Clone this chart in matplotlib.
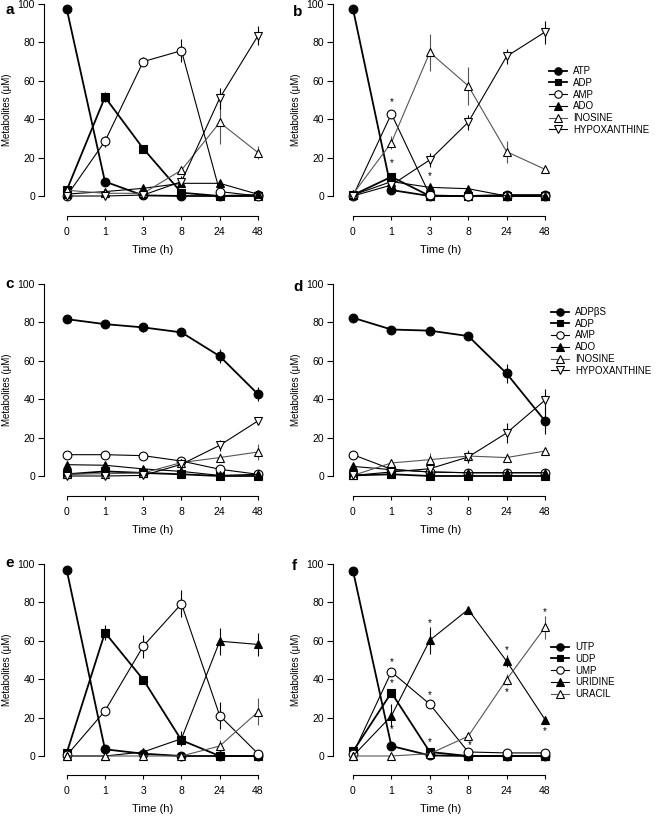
import matplotlib
matplotlib.use("Agg")
import matplotlib.pyplot as plt
import numpy as np

plt.rcParams['font.family'] = ['Liberation Sans', 'DejaVu Sans']

time_labels = ["0", "1", "3", "8", "24", "48"]

# ---- panel a (ATP) ----
a_ATP = [97.5, 7.5, 0.3, 0.0, 0.0, 0.5]
a_ADP = [3.0, 51.5, 24.7, 1.7, 0.0, 0.0]
a_AMP = [0.0, 28.5, 70.0, 75.7, 2.3, 0.0]
a_ADO = [1.0, 2.3, 4.0, 6.6, 6.6, 0.9]
a_INO = [3.0, 1.4, 1.4, 13.5, 38.3, 22.6]
a_HYP = [0.0, 0.0, 0.5, 7.5, 51.0, 83.5]
a_ATP_err = [0, 1, 0, 0, 0, 0]
a_ADP_err = [0, 2.5, 0, 0, 0, 0]
a_AMP_err = [0, 3, 2.5, 6, 4, 0]
a_ADO_err = [0, 0, 0, 0, 0, 0]
a_INO_err = [0, 0, 0, 0, 11, 3.5]
a_HYP_err = [0, 0, 0, 3, 5.5, 5]

# ---- panel b (ATP) ----
b_ATP = [97.4, 3.1, 0.0, 0.0, 0.5, 0.5]
b_ADP = [0.5, 10.0, 0.0, 0.0, 0.0, 0.0]
b_AMP = [0.0, 42.8, 0.5, 0.0, 0.0, 0.0]
b_ADO = [0.5, 7.5, 4.5, 3.8, 0.0, 0.0]
b_INO = [1.0, 27.8, 74.8, 57.4, 23.1, 13.9]
b_HYP = [0.0, 5.7, 18.8, 38.4, 72.7, 85.4]
b_ATP_err = [0, 0, 0, 0, 0, 0]
b_ADP_err = [0, 2, 0, 0, 0, 0]
b_AMP_err = [0, 0, 0, 0, 0, 0]
b_ADO_err = [0, 0, 0, 0, 0, 0]
b_INO_err = [0, 3.5, 9.7, 9.8, 5.7, 0.5]
b_HYP_err = [0, 0, 3.5, 4, 4, 6]
b_star_x = [1, 1, 2]
b_star_y = [49, 17, 10.4]

# ---- panel c (ADPbetaS) ----
c_ADPbS = [81.7, 79.1, 77.4, 74.8, 62.4, 42.6]
c_ADP = [0.9, 2.4, 1.6, 0.9, 0.0, 0.0]
c_AMP = [11.1, 11.1, 10.6, 7.8, 3.5, 0.9]
c_ADO = [5.9, 5.6, 3.7, 2.4, 0.3, 0.9]
c_INO = [0.9, 1.2, 1.6, 7.0, 9.6, 12.5]
c_HYP = [0.0, 0.0, 0.3, 6.1, 16.0, 28.7]
c_ADPbS_err = [2, 1.5, 2.5, 2, 3.5, 3.5]
c_ADP_err = [0, 0, 0, 0, 0, 0]
c_AMP_err = [0, 0, 0, 0, 0, 0]
c_ADO_err = [0, 0, 0, 0, 0, 0]
c_INO_err = [0, 0, 0, 1.5, 2.5, 4]
c_HYP_err = [0, 0, 0, 0, 3, 1]

# ---- panel d (ADPbetaS) ----
d_ADPbS = [82.4, 76.3, 75.7, 72.9, 53.4, 28.7]
d_ADP = [0.3, 0.9, 0.0, 0.0, 0.0, 0.0]
d_AMP = [11.1, 3.5, 2.1, 1.7, 1.7, 1.7]
d_ADO = [5.0, 3.3, 2.1, 1.7, 1.7, 1.7]
d_INO = [0.3, 6.8, 8.5, 10.4, 9.6, 13.0]
d_HYP = [0.3, 2.1, 3.8, 9.9, 22.4, 39.5]
d_ADPbS_err = [2, 0.5, 0.5, 1, 5, 7]
d_ADP_err = [0, 0, 0, 0, 0, 0]
d_AMP_err = [0, 0, 0, 0, 0, 0]
d_ADO_err = [0, 0, 0, 0, 0, 0]
d_INO_err = [0, 2, 3.5, 3, 2.5, 1]
d_HYP_err = [0, 0, 0, 3, 5, 6]

# ---- panel e (UTP) ----
e_UTP = [96.9, 3.5, 1.2, 0.0, 0.0, 0.0]
e_UDP = [1.6, 64.3, 39.8, 8.2, 0.0, 0.0]
e_UMP = [0.3, 23.5, 57.2, 79.3, 21.0, 1.2]
e_URI = [0.0, 0.0, 2.1, 9.0, 59.8, 58.1]
e_URA = [0.0, 0.0, 0.0, 0.0, 5.2, 23.0]
e_UTP_err = [0, 0, 0, 0, 0, 0]
e_UDP_err = [0, 4, 0, 0, 0, 0]
e_UMP_err = [0, 1, 6, 7, 7, 0]
e_URI_err = [0, 0, 0, 4, 7, 6]
e_URA_err = [0, 0, 0, 0, 3, 7]

# ---- panel f (UTP) ----
f_UTP = [96.5, 5.2, 0.3, 0.0, 0.0, 0.0]
f_UDP = [2.4, 33.0, 2.1, 0.0, 0.0, 0.0]
f_UMP = [1.2, 43.8, 27.0, 2.1, 1.6, 1.6]
f_URI = [0.0, 20.9, 60.3, 76.3, 49.4, 19.0]
f_URA = [0.0, 0.0, 1.2, 10.3, 39.8, 67.0]
f_UTP_err = [0, 1, 0, 0, 0, 0]
f_UDP_err = [0, 2, 0, 0, 0, 0]
f_UMP_err = [0, 1, 0, 0, 0, 0]
f_URI_err = [0, 6, 7, 1, 3, 2]
f_URA_err = [0, 0, 0, 0, 3, 6]
f_star_x = [1, 1, 1, 2, 2, 2, 3.05, 4, 4, 5, 5]
f_star_y = [49, 38, 14, 69, 31.7, 7.3, 5.7, 55, 33.4, 75, 13]

adenine_labels = ["ATP", "ADP", "AMP", "ADO", "INOSINE", "HYPOXANTHINE"]
adpbs_labels = ["ADP\u03b2S", "ADP", "AMP", "ADO", "INOSINE", "HYPOXANTHINE"]
uridine_labels = ["UTP", "UDP", "UMP", "URIDINE", "URACIL"]

# styles: marker, face, linewidth, color
styles6 = [("o", "black", 1.3, "black"),
           ("s", "black", 1.3, "black"),
           ("o", "white", 0.8, "black"),
           ("^", "black", 0.8, "black"),
           ("^", "white", 0.8, "#555555"),
           ("v", "white", 0.8, "black")]
styles5 = [("o", "black", 1.3, "black"),
           ("s", "black", 1.3, "black"),
           ("o", "white", 0.8, "black"),
           ("^", "black", 0.8, "black"),
           ("^", "white", 0.8, "#555555")]

W, H = 658, 816
fig = plt.figure(figsize=(W / 100, H / 100), dpi=100)

x = np.arange(len(time_labels))
FS = 7
TFS = 7.5


def make_axes(spine_x, x0_px, x5_px, y100_px, y0_px, xspine_px):
    unit_x = (x5_px - x0_px) / 5.0
    unit_y = (y0_px - y100_px) / 100.0
    right_px = x5_px + 4
    left = spine_x / W
    width = (right_px - spine_x) / W
    bottom = 1 - xspine_px / H
    height = (xspine_px - y100_px) / H
    ax = fig.add_axes([left, bottom, width, height])
    ax.set_xlim(-(x0_px - spine_x) / unit_x, 5 + 4 / unit_x)
    ax.set_ylim(-(xspine_px - y0_px) / unit_y, 100)
    for s in ["top", "right"]:
        ax.spines[s].set_visible(False)
    ax.spines["left"].set_bounds(0, 100)
    ax.spines["bottom"].set_bounds(0, 5)
    ax.spines["left"].set_linewidth(0.8)
    ax.spines["bottom"].set_linewidth(0.8)
    ax.set_xticks(x)
    ax.set_xticklabels(time_labels)
    ax.set_yticks([0, 20, 40, 60, 80, 100])
    ax.tick_params(axis="x", direction="out", length=3.2, width=0.8, labelsize=TFS, pad=4.5)
    ax.tick_params(axis="y", direction="out", length=4.5, width=0.8, labelsize=TFS, pad=2)
    ax.set_xlabel("Time (h)", fontsize=8, labelpad=6)
    ax.set_ylabel("Metabolites (\u03bcM)", fontsize=FS, labelpad=4)
    return ax


def plot_series(ax, series, errs, styles, labels):
    handles = []
    for ys, es, st, lab in zip(series, errs, styles, labels):
        m, fc, lw, col = st
        yerr = np.array(es, dtype=float)
        ax.errorbar(x, ys, yerr=np.where(yerr > 0, yerr, np.nan), fmt="none",
                    ecolor=col, elinewidth=0.8, capsize=0, zorder=2, clip_on=False)
        h, = ax.plot(x, ys, marker=m, color=col, lw=lw, ms=6.3 if m != "s" else 5.8,
                     mfc=fc, mec="black", mew=0.8, zorder=3, clip_on=False, label=lab)
        handles.append(h)
    return handles


def add_legend(ax, handles, labels, x_px, y_px):
    ax.legend(handles, labels, loc="upper left", frameon=False,
              bbox_to_anchor=(x_px / W, 1 - y_px / H), bbox_transform=fig.transFigure,
              fontsize=FS, handlelength=1.8, handletextpad=0.7, labelspacing=0.18,
              borderpad=0, borderaxespad=0, markerscale=0.85)


def add_stars(ax, xs, ys):
    for sx, sy in zip(xs, ys):
        ax.text(sx, sy, "*", ha="center", va="center", fontsize=FS, zorder=5)


# positions: spine_x, x0_px, x5_px, y100_px, y0_px, xspine_px
L = (44, 66.7, 258)
R = (333, 353, 545)
rows = [(4, 196, 216), (284, 476, 496), (564, 756, 775)]

ax_a = make_axes(*L, *rows[0])
plot_series(ax_a, [a_ATP, a_ADP, a_AMP, a_ADO, a_INO, a_HYP],
            [a_ATP_err, a_ADP_err, a_AMP_err, a_ADO_err, a_INO_err, a_HYP_err],
            styles6, adenine_labels)

ax_b = make_axes(*R, *rows[0])
hb = plot_series(ax_b, [b_ATP, b_ADP, b_AMP, b_ADO, b_INO, b_HYP],
                 [b_ATP_err, b_ADP_err, b_AMP_err, b_ADO_err, b_INO_err, b_HYP_err],
                 styles6, adenine_labels)
add_stars(ax_b, b_star_x, b_star_y)
add_legend(ax_b, hb, adenine_labels, 549, 66)

ax_c = make_axes(*L, *rows[1])
plot_series(ax_c, [c_ADPbS, c_ADP, c_AMP, c_ADO, c_INO, c_HYP],
            [c_ADPbS_err, c_ADP_err, c_AMP_err, c_ADO_err, c_INO_err, c_HYP_err],
            styles6, adpbs_labels)

ax_d = make_axes(*R, *rows[1])
hd = plot_series(ax_d, [d_ADPbS, d_ADP, d_AMP, d_ADO, d_INO, d_HYP],
                 [d_ADPbS_err, d_ADP_err, d_AMP_err, d_ADO_err, d_INO_err, d_HYP_err],
                 styles6, adpbs_labels)
add_legend(ax_d, hd, adpbs_labels, 551, 307)

ax_e = make_axes(*L, *rows[2])
plot_series(ax_e, [e_UTP, e_UDP, e_UMP, e_URI, e_URA],
            [e_UTP_err, e_UDP_err, e_UMP_err, e_URI_err, e_URA_err],
            styles5, uridine_labels)

ax_f = make_axes(*R, *rows[2])
hf = plot_series(ax_f, [f_UTP, f_UDP, f_UMP, f_URI, f_URA],
                 [f_UTP_err, f_UDP_err, f_UMP_err, f_URI_err, f_URA_err],
                 styles5, uridine_labels)
add_stars(ax_f, f_star_x, f_star_y)
add_legend(ax_f, hf, uridine_labels, 551, 642)

for lab, (px, py) in zip("abcdef", [(5, 10), (293, 12), (5, 284), (293, 287), (5, 563), (292, 566)]):
    fig.text(px / W, 1 - py / H, lab, fontsize=11, fontweight="bold", ha="left", va="center")

fig.savefig("out.png", dpi=100)
